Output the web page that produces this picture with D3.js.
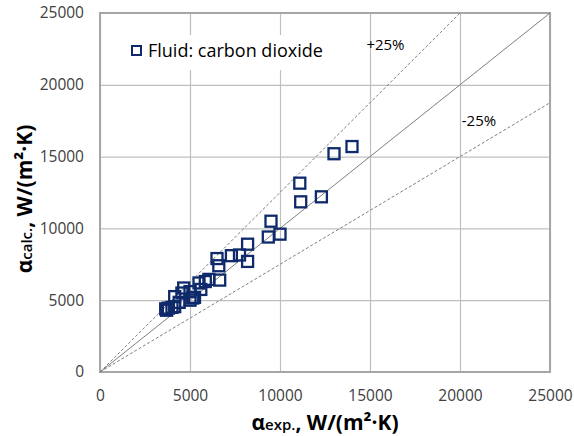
<!DOCTYPE html>
<html lang="en">
<head>
<meta charset="UTF-8">
<script src="https://d3js.org/d3.v7.min.js"></script>
<style>
  body { margin: 0; background: #fff; font-family: "Open Sans", sans-serif; }
  .tick text { fill: #404040; font-size: 15.5px; font-family: "Open Sans", sans-serif; }
</style>
</head>
<body>
<div id="chart"></div>
<script>
  // measured vs calculated heat transfer coefficient, W/(m2.K)
  const expValues = [14000, 13000, 11100, 11150, 12300, 9500, 9350, 10000, 8200, 8200,
                     6500, 6600, 7300, 7750, 6650, 6050, 5850, 5500, 5600, 5000,
                     4650, 5150, 4550, 3650, 3800, 4150, 4400, 4150, 5250, 5000, 4000, 3700];
  const calcValues = [15700, 15200, 13150, 11850, 12200, 10500, 9400, 9600, 8900, 7700,
                      7900, 7400, 8100, 8150, 6400, 6450, 6300, 6200, 5750, 5600,
                      5850, 5150, 5500, 4400, 4450, 5250, 4850, 4550, 5200, 5000, 4500, 4300];
  const tickValues = [0, 5000, 10000, 15000, 20000, 25000];
  const bandFactors = [1.25, 1, 0.75];

  const W = 574, H = 436;
  const margin = {top: 13, right: 24, bottom: 64, left: 100};
  const width = W - margin.left - margin.right;
  const height = H - margin.top - margin.bottom;

  const svg = d3.select("#chart").append("svg")
      .attr("width", W).attr("height", H);
  const g = svg.append("g")
      .attr("transform", `translate(${margin.left},${margin.top})`);

  const x = d3.scaleLinear().domain([0, 25000]).range([0, width]);
  const y = d3.scaleLinear().domain([0, 25000]).range([height, 0]);

  // grid + tick labels
  const xAxis = g.append("g")
      .attr("transform", `translate(0,${height})`)
      .call(d3.axisBottom(x).tickValues(tickValues).tickFormat(d3.format("d"))
        .tickSize(-height).tickPadding(18));
  const yAxis = g.append("g")
      .call(d3.axisLeft(y).tickValues(tickValues).tickFormat(d3.format("d"))
        .tickSize(-width).tickPadding(16));
  [xAxis, yAxis].forEach(a => {
    a.select(".domain").remove();
    a.selectAll(".tick line").attr("stroke", "#bfbfbf").attr("stroke-width", 1.2);
  });

  // border
  g.append("rect")
      .attr("width", width).attr("height", height)
      .attr("fill", "none").attr("stroke", "#a6a6a6").attr("stroke-width", 2);

  // legend background covers grid
  g.append("rect")
      .attr("x", 25).attr("y", 22).attr("width", 205).attr("height", 35)
      .attr("fill", "#fff");

  // reference lines y = k*x
  g.selectAll(".ref")
      .data(bandFactors)
      .enter().append("line")
      .attr("class", "ref")
      .attr("x1", x(0)).attr("y1", y(0))
      .attr("x2", k => x(Math.min(25000, 25000 / k)))
      .attr("y2", k => y(Math.min(25000, 25000 * k)))
      .attr("stroke", "#7f7f7f")
      .attr("stroke-width", 1)
      .attr("stroke-dasharray", k => k === 1 ? null : "3,2");

  g.append("text").attr("x", x(14800)).attr("y", y(22400))
      .style("font-size", "15px").attr("fill", "#000").text("+25%");
  g.append("text").attr("x", x(20100)).attr("y", y(17100))
      .style("font-size", "15px").attr("fill", "#000").text("-25%");

  // points
  const pts = expValues.map((v, i) => ({e: v, c: calcValues[i]}));
  g.selectAll(".pt")
      .data(pts)
      .enter().append("rect")
      .attr("class", "pt")
      .attr("x", d => x(d.e) - 5.5).attr("y", d => y(d.c) - 5.5)
      .attr("width", 11).attr("height", 11)
      .attr("fill", "none").attr("stroke", "#0f2a6b").attr("stroke-width", 2.3);

  // legend
  g.append("rect").attr("x", 32).attr("y", 33).attr("width", 9).attr("height", 9)
      .attr("fill", "none").attr("stroke", "#0f2a6b").attr("stroke-width", 2);
  g.append("text").attr("x", 48).attr("y", 44)
      .style("font-size", "18px").attr("fill", "#000").text("Fluid: carbon dioxide");

  // axis titles
  const xt = svg.append("text")
      .attr("x", margin.left + width / 2).attr("y", 430)
      .attr("text-anchor", "middle")
      .style("font-weight", "bold").style("font-size", "21px").attr("fill", "#000");
  xt.append("tspan").text("α");
  xt.append("tspan").style("font-size", "15px").style("font-weight", "600").text("exp.");
  xt.append("tspan").text(", W/(m²·K)");

  const yt = svg.append("text")
      .attr("transform", "translate(32,199) rotate(-90)")
      .attr("text-anchor", "middle")
      .style("font-weight", "bold").style("font-size", "21px").attr("fill", "#000");
  yt.append("tspan").text("α");
  yt.append("tspan").style("font-size", "15px").style("font-weight", "600").text("calc.");
  yt.append("tspan").text(", W/(m²·K)");
</script>
</body>
</html>
